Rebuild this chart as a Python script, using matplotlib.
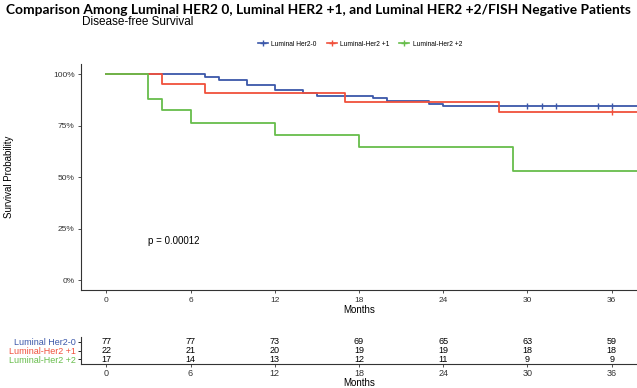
import matplotlib
matplotlib.use("Agg")
import matplotlib.pyplot as plt

# Kaplan-Meier steps (months, survival)
groups = ["Luminal Her2-0", "Luminal-Her2 +1", "Luminal-Her2 +2"]
colors = ["#3B57A9", "#F0503C", "#67BD4B"]

her0_t = [0, 7, 8, 10, 12, 14, 15, 19, 20, 23, 24, 38]
her0_s = [1.0, 0.987, 0.974, 0.948, 0.922, 0.909, 0.896, 0.883, 0.870, 0.857, 0.844, 0.844]
her0_cens = [30, 31, 32, 35, 36]

her1_t = [0, 4, 7, 17, 28, 38]
her1_s = [1.0, 0.955, 0.909, 0.864, 0.818, 0.818]
her1_cens = [36]

her2_t = [0, 3, 4, 6, 12, 18, 29, 38]
her2_s = [1.0, 0.882, 0.824, 0.765, 0.706, 0.647, 0.529, 0.529]
her2_cens = []

curves = [(her0_t, her0_s, her0_cens), (her1_t, her1_s, her1_cens), (her2_t, her2_s, her2_cens)]

# numbers at risk
risk_times = [0, 6, 12, 18, 24, 30, 36]
risk_her0 = [77, 77, 73, 69, 65, 63, 59]
risk_her1 = [22, 21, 20, 19, 19, 18, 18]
risk_her2 = [17, 14, 13, 12, 11, 9, 9]
risk_rows = [risk_her0, risk_her1, risk_her2]

plt.rcParams["font.family"] = ["Liberation Sans", "DejaVu Sans"]

fig = plt.figure(figsize=(6.37, 3.88), dpi=100)
W, H = 637, 388

def box(x0, y0, x1, y1):
    return [x0 / W, 1 - y1 / H, (x1 - x0) / W, (y1 - y0) / H]

fig.text(0.5, 1 - 10 / H, "Comparison Among Luminal HER2 0, Luminal HER2 +1, and Luminal HER2 +2/FISH Negative Patients",
         ha="center", va="center", fontsize=9.95, fontweight="bold", family=["Lato", "DejaVu Sans"])
fig.text(82 / W, 1 - 22 / H, "Disease-free Survival", ha="left", va="center", fontsize=8.5)

ax = fig.add_axes(box(81, 64, 637, 290.3))
for (t, s, cens), col, name in zip(curves, colors, groups):
    ax.step(t, s, where="post", color=col, linewidth=1.3, label=name, clip_on=True)
    if cens:
        cy = [s[max(i for i, tt in enumerate(t) if tt <= c)] for c in cens]
        ax.plot(cens, cy, linestyle="none", marker="|", markersize=5, color=col, markeredgewidth=1)

ax.set_xlim(-1.8, 37.8)
ax.set_ylim(-0.05, 1.05)
ax.set_xticks(risk_times)
ax.set_yticks([0, 0.25, 0.5, 0.75, 1.0])
ax.set_yticklabels(["0%", "25%", "50%", "75%", "100%"])
ax.tick_params(labelsize=6, length=2.5, width=0.6, colors="#333333", labelcolor="#333333", pad=2)
for sp in ["top", "right"]:
    ax.spines[sp].set_visible(False)
for sp in ["left", "bottom"]:
    ax.spines[sp].set_linewidth(0.8)
    ax.spines[sp].set_color("#333333")
ax.set_xlabel("Months", fontsize=7, labelpad=1)
fig.text(9 / W, 1 - 177 / H, "Survival Probability", fontsize=7, rotation=90, ha="center", va="center")
ax.text(3.0, 0.19, "p = 0.00012", fontsize=7, ha="left", va="center")

handles = [plt.Line2D([], [], color=c, marker="+", markersize=5, linewidth=1.2) for c in colors]
leg = fig.legend(handles, groups, loc="center", bbox_to_anchor=(360 / W, 1 - 44 / H), ncol=3,
                 frameon=False, fontsize=4.8, handlelength=1.5, columnspacing=1.5, handletextpad=0.5)

tab = fig.add_axes(box(81, 337, 637, 364))
for row, (vals, col) in enumerate(zip(risk_rows, colors)):
    y = 3 - row
    for x, v in zip(risk_times, vals):
        tab.text(x, y, str(v), ha="center", va="center", fontsize=6.5, color="black")
tab.set_xlim(-1.8, 37.8)
tab.set_ylim(0.45, 3.55)
tab.set_xticks(risk_times)
tab.set_yticks([3, 2, 1])
tab.set_yticklabels(groups)
for lab, col in zip(tab.get_yticklabels(), colors):
    lab.set_color(col)
tab.tick_params(axis="y", labelsize=6.5, length=2.5, width=0.6, pad=1)
tab.tick_params(axis="x", labelsize=6.5, length=2.5, width=0.6, colors="#333333", labelcolor="#333333", pad=1)
for sp in ["top", "right"]:
    tab.spines[sp].set_visible(False)
for sp in ["left", "bottom"]:
    tab.spines[sp].set_linewidth(0.8)
    tab.spines[sp].set_color("#333333")
tab.set_xlabel("Months", fontsize=7, labelpad=0)

fig.savefig("out.png", dpi=100)
